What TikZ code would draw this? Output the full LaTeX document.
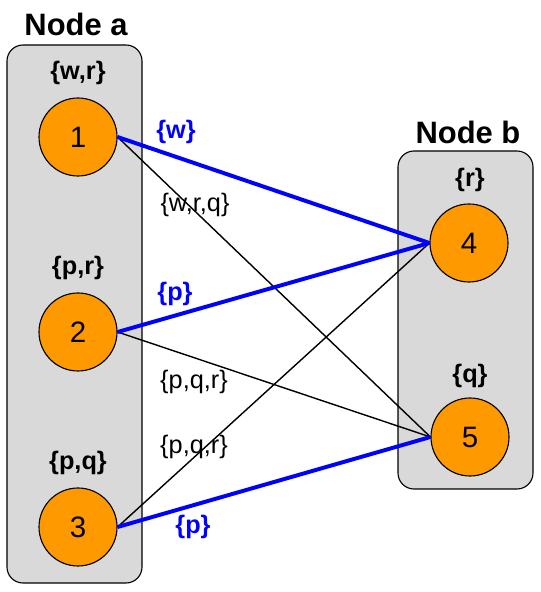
\documentclass[tikz,border=0pt]{standalone}
\usepackage{fontspec}
\setmainfont{Liberation Sans}
\definecolor{host}{HTML}{D9D9D9}
\definecolor{proc}{HTML}{FF9900}
\definecolor{chan}{HTML}{0000FF}
\begin{document}
\begin{tikzpicture}[
  hostbox/.style={draw,thick,fill=host,rounded corners=0.4cm},
  procnode/.style={circle,draw,thick,fill=proc,minimum size=1.95cm,inner sep=0pt,font=\fontsize{21}{25}\selectfont},
  settext/.style={font=\bfseries\fontsize{18}{21}\selectfont},
  edgetext/.style={font=\fontsize{18}{21}\selectfont},
  title/.style={font=\bfseries\fontsize{22}{26}\selectfont},
  strong/.style={chan,line width=2.8pt},
  weak/.style={black,line width=1pt}]
\useasboundingbox (0,0) rectangle (13.5,14.8);
\draw[hostbox] (0.175,0.225) rectangle (3.55,13.675);
\draw[hostbox] (9.95,2.575) rectangle (13.325,11.025);
\node[title] (ta) at (1.9,14.2) {Node a};
\node[title] (tb) at (11.7,11.5) {Node b};
\node[procnode] (p1) at (1.95,11.375) {1};
\node[procnode] (p2) at (1.95,6.5) {2};
\node[procnode] (p3) at (1.95,1.625) {3};
\node[procnode] (p4) at (11.725,8.725) {4};
\node[procnode] (p5) at (11.75,3.875) {5};
\node[settext] (s1) at (1.95,12.975) {\{w,r\}};
\node[settext] (s2) at (1.95,8.1) {\{p,r\}};
\node[settext] (s3) at (1.95,3.225) {\{p,q\}};
\node[settext] (s4) at (11.75,10.3) {\{r\}};
\node[settext] (s5) at (11.75,5.4) {\{q\}};
\draw[weak] (p1.east) -- (p5.west);
\draw[weak] (p2.east) -- (p5.west);
\draw[weak] (p3.east) -- (p4.west);
\draw[strong] (p1.east) -- (p4.west);
\draw[strong] (p2.east) -- (p4.west);
\draw[strong] (p3.east) -- (p5.west);
\node[settext,chan] (l14) at (4.4,11.5) {\{w\}};
\node[edgetext] (l15) at (4.875,9.675) {\{w,r,q\}};
\node[settext,chan] (l24) at (4.375,7.45) {\{p\}};
\node[edgetext] (l25) at (4.85,5.25) {\{p,q,r\}};
\node[edgetext] (l34) at (4.85,3.625) {\{p,q,r\}};
\node[settext,chan] (l35) at (4.825,1.625) {\{p\}};
\end{tikzpicture}
\end{document}
